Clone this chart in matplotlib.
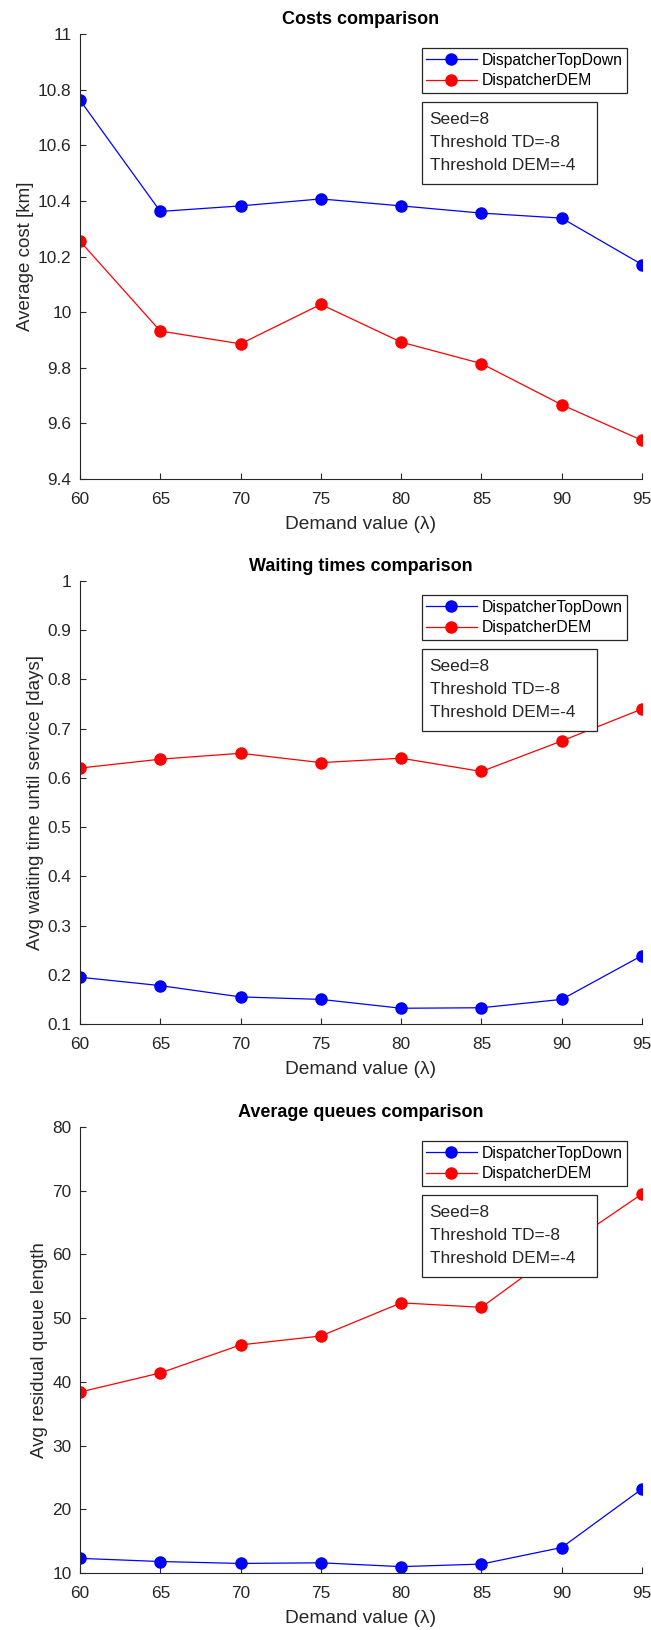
'''
Comparacion DispatcherTopDown vs DispatcherDEM: costos, tiempos de espera y colas.
'''

import matplotlib
matplotlib.use('Agg')
import matplotlib.pyplot as plt
from matplotlib.patches import Rectangle

plt.rcParams['font.family'] = ['Liberation Sans', 'DejaVu Sans']

# datos
demanda = [60, 65, 70, 75, 80, 85, 90, 95]

costo_td = [10.762, 10.362, 10.382, 10.407, 10.382, 10.356, 10.338, 10.171]
costo_dem = [10.255, 9.932, 9.886, 10.028, 9.892, 9.815, 9.667, 9.539]

espera_td = [0.195, 0.178, 0.155, 0.150, 0.132, 0.133, 0.150, 0.239]
espera_dem = [0.620, 0.638, 0.650, 0.631, 0.640, 0.613, 0.675, 0.740]

cola_td = [12.3, 11.8, 11.5, 11.6, 11.0, 11.4, 14.0, 23.2]
cola_dem = [38.4, 41.4, 45.8, 47.2, 52.4, 51.7, 60.9, 69.5]

nombres = ['DispatcherTopDown', 'DispatcherDEM']
info = 'Seed=8\nThreshold TD=-8\nThreshold DEM=-4'

GRIS = (0.15, 0.15, 0.15)
W, H = 651, 1630


def panel(rect, td, dem, titulo, ylab, ylim, yticks):
    '''
    Dibuja un panel estilo MATLAB. rect en pixeles: (izq, arriba, der, abajo).
    '''
    l, t, r, b = rect
    ax = fig.add_axes([l / W, 1 - b / H, (r - l) / W, (b - t) / H])
    ax.plot(demanda, td, '-o', color='b', lw=0.9, ms=8, label=nombres[0])
    ax.plot(demanda, dem, '-o', color='r', lw=0.9, ms=8, label=nombres[1])
    ax.set_xlim(60, 95)
    ax.set_ylim(*ylim)
    ax.set_xticks(demanda)
    ax.set_yticks(yticks)
    ax.set_yticklabels(['%g' % v for v in yticks])
    for s in ['top', 'right']:
        ax.spines[s].set_visible(False)
    for s in ['left', 'bottom']:
        ax.spines[s].set_color(GRIS)
        ax.spines[s].set_linewidth(0.8)
    ax.tick_params(direction='in', length=4, width=0.8, colors=GRIS,
                   labelsize=12.4, pad=6)
    ax.tick_params(axis='x', pad=9.5)
    ax.set_title(titulo, fontsize=13, fontweight='bold', pad=7)
    ax.set_xlabel('Demand value (λ)', fontsize=13.8, color=GRIS, labelpad=6)
    ax.set_ylabel(ylab, fontsize=13.5, color=GRIS, labelpad=3)

    aw, ah = r - l, b - t
    leg = ax.legend(loc='upper right', bbox_to_anchor=(1 - 15 / aw, 1 - 14 / ah),
                    borderaxespad=0, fontsize=11.3, handlelength=3.2,
                    handletextpad=0.3, borderpad=0.3, labelspacing=0.35,
                    fancybox=False, framealpha=1)
    leg.get_frame().set_edgecolor(GRIS)
    leg.get_frame().set_linewidth(0.9)

    # cuadro de texto con los parametros
    x0 = (421.5 - l) / aw
    y1 = 1 - 68 / ah
    ax.add_patch(Rectangle((x0, y1 - 82 / ah), 175 / aw, 82 / ah,
                           transform=ax.transAxes, facecolor='white',
                           edgecolor=GRIS, lw=0.9, zorder=5))
    ax.text(x0 + 8 / aw, y1 - 10 / ah, info, transform=ax.transAxes,
            fontsize=12.4, color=GRIS, va='top', ha='left',
            linespacing=1.68, zorder=6)
    return ax


fig = plt.figure(figsize=(6.51, 16.30), dpi=100)

panel((80, 34, 642, 479), costo_td, costo_dem, 'Costs comparison',
      'Average cost [km]', (9.4, 11),
      [9.4, 9.6, 9.8, 10, 10.2, 10.4, 10.6, 10.8, 11])

panel((80, 581, 642, 1024), espera_td, espera_dem, 'Waiting times comparison',
      'Avg waiting time until service [days]', (0.1, 1),
      [0.1, 0.2, 0.3, 0.4, 0.5, 0.6, 0.7, 0.8, 0.9, 1])

panel((80, 1127, 642, 1573), cola_td, cola_dem, 'Average queues comparison',
      'Avg residual queue length', (10, 80),
      [10, 20, 30, 40, 50, 60, 70, 80])

plt.savefig('out.png', dpi=100)
